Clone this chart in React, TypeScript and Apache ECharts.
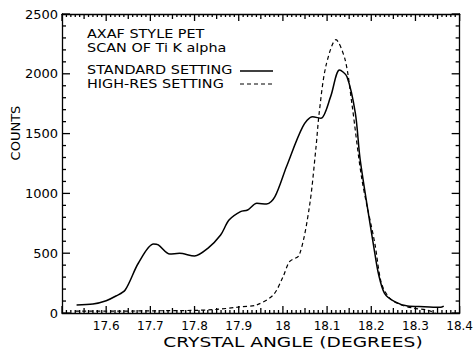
import React, { useEffect, useRef } from "react";
import * as echarts from "echarts";

const stdX = [17.533, 17.57, 17.6, 17.622, 17.643, 17.673, 17.707, 17.718, 17.744, 17.766, 17.8, 17.83, 17.859, 17.878, 17.904, 17.92, 17.941, 17.963, 17.982, 18.008, 18.045, 18.067, 18.086, 18.108, 18.128, 18.145, 18.164, 18.175, 18.208, 18.216, 18.23, 18.253, 18.282, 18.32, 18.357, 18.364];
const stdY = [67, 75, 103, 142, 192, 418, 577, 569, 493, 499, 477, 541, 652, 777, 847, 861, 917, 911, 973, 1223, 1558, 1641, 1628, 1809, 2032, 1976, 1670, 1279, 500, 332, 165, 95, 58, 53, 48, 58];
const hrX = [17.53, 17.6, 17.7, 17.8, 17.85, 17.9, 17.94, 17.978, 18.0, 18.015, 18.037, 18.06, 18.075, 18.082, 18.097, 18.12, 18.141, 18.156, 18.179, 18.208, 18.223, 18.242, 18.268, 18.297, 18.326, 18.345];
const hrY = [15, 15, 18, 22, 30, 50, 67, 150, 300, 429, 485, 889, 1390, 1670, 2060, 2285, 2115, 1753, 1112, 583, 248, 123, 67, 39, 25, 0];

const xMin = 17.5;
const xMax = 18.4;
const xMinorStep = 0.01;
const yMin = 0;
const yMax = 2500;
const yMinorStep = 100;
const titleLines = ["AXAF STYLE PET", "SCAN OF Ti K alpha"];
const legendNames = ["STANDARD SETTING", "HIGH-RES SETTING"];
const xName = "CRYSTAL ANGLE (DEGREES)";
const yName = "COUNTS";

const FONT = "DejaVu Sans";

// tick positions along the axes (axis decoration, derived from the axis range)
const xTickVals: number[] = [];
for (let i = 0; i <= Math.round((xMax - xMin) / xMinorStep); i++) xTickVals.push(+(xMin + i * xMinorStep).toFixed(2));
const yTickVals: number[] = [];
for (let i = 0; i <= Math.round((yMax - yMin) / yMinorStep); i++) yTickVals.push(yMin + i * yMinorStep);

export default function App() {
  const ref = useRef<HTMLDivElement>(null);
  useEffect(() => {
    if (!ref.current) return;
    const chart = echarts.init(ref.current, null, { renderer: "svg" });
    const line = { show: true, onZero: false, lineStyle: { color: "#000", width: 1.3 } };
    const tickStyle = { stroke: "#000", lineWidth: 1.3 };
    chart.setOption({
      animation: false,
      backgroundColor: "#fff",
      grid: { left: 62, right: 10, top: 14, bottom: 38, containLabel: false },
      xAxis: [
        {
          type: "value", position: "bottom", min: xMin, max: xMax, interval: 0.1,
          axisLine: line, splitLine: { show: false }, axisTick: { show: false },
          axisLabel: {
            show: true, color: "#000", fontFamily: FONT, fontSize: 12, margin: 7,
            formatter: (v: number) => (v < xMin + 0.05 ? "" : String(Math.round(v * 10) / 10)),
          },
        },
        {
          type: "value", position: "top", min: xMin, max: xMax, interval: 0.1,
          axisLine: line, splitLine: { show: false }, axisTick: { show: false },
          axisLabel: { show: false },
        },
      ],
      yAxis: [
        {
          type: "value", position: "left", min: yMin, max: yMax, interval: 500,
          axisLine: line, splitLine: { show: false }, axisTick: { show: false },
          axisLabel: { show: true, color: "#000", fontFamily: FONT, fontSize: 13, margin: 4, formatter: (v: number) => String(v) },
        },
        {
          type: "value", position: "right", min: yMin, max: yMax, interval: 500,
          axisLine: line, splitLine: { show: false }, axisTick: { show: false },
          axisLabel: { show: false },
        },
      ],
      series: [
        {
          type: "line",
          name: legendNames[0],
          data: stdX.map((x, i) => [x, stdY[i]]),
          showSymbol: false,
          smooth: 0.3,
          lineStyle: { color: "#000", width: 1.5 },
        },
        {
          type: "line",
          name: legendNames[1],
          data: hrX.map((x, i) => [x, hrY[i]]),
          showSymbol: false,
          smooth: 0.3,
          lineStyle: { color: "#000", width: 1.2, type: [4, 3] },
        },
        {
          type: "custom",
          silent: true,
          clip: false,
          z: 5,
          data: xTickVals.map((v) => [v, yMin]),
          renderItem: (params: any, api: any) => {
            const v = api.value(0);
            const i = params.dataIndex;
            const len = i % 10 === 0 ? 7 : i % 5 === 0 ? 5 : 3;
            const b = api.coord([v, yMin]);
            const t = api.coord([v, yMax]);
            return {
              type: "group",
              children: [
                { type: "line", shape: { x1: b[0], y1: b[1], x2: b[0], y2: b[1] - len }, style: tickStyle },
                { type: "line", shape: { x1: t[0], y1: t[1], x2: t[0], y2: t[1] + len }, style: tickStyle },
              ],
            };
          },
        },
        {
          type: "custom",
          silent: true,
          clip: false,
          z: 5,
          data: yTickVals.map((v) => [xMin, v]),
          renderItem: (params: any, api: any) => {
            const v = api.value(1);
            const i = params.dataIndex;
            const len = i % 5 === 0 ? 8 : 4;
            const l = api.coord([xMin, v]);
            const r = api.coord([xMax, v]);
            return {
              type: "group",
              children: [
                { type: "line", shape: { x1: l[0], y1: l[1], x2: l[0] + len, y2: l[1] }, style: tickStyle },
                { type: "line", shape: { x1: r[0], y1: r[1], x2: r[0] - len, y2: r[1] }, style: tickStyle },
              ],
            };
          },
        },
      ],
      graphic: [
        { type: "text", x: 87, y: 28, scaleX: 1.2, style: { text: titleLines[0], font: `12px "${FONT}"`, fill: "#000", verticalAlign: "top" } },
        { type: "text", x: 87, y: 42, scaleX: 1.2, style: { text: titleLines[1], font: `12px "${FONT}"`, fill: "#000", verticalAlign: "top" } },
        { type: "text", x: 87, y: 64, scaleX: 1.2, style: { text: legendNames[0], font: `12px "${FONT}"`, fill: "#000", verticalAlign: "top" } },
        { type: "text", x: 87, y: 78, scaleX: 1.2, style: { text: legendNames[1], font: `12px "${FONT}"`, fill: "#000", verticalAlign: "top" } },
        { type: "line", shape: { x1: 240, y1: 71, x2: 273, y2: 71 }, style: { stroke: "#000", lineWidth: 1.5 } },
        { type: "line", shape: { x1: 240, y1: 84, x2: 273, y2: 84 }, style: { stroke: "#000", lineWidth: 1.2, lineDash: [4, 3] } },
        { type: "text", x: 293, y: 342, scaleX: 1.33, style: { text: xName, font: `14px "${FONT}"`, fill: "#000", align: "center", verticalAlign: "middle" } },
        { type: "text", x: 15, y: 133, rotation: Math.PI / 2, style: { text: yName, font: `13px "${FONT}"`, fill: "#000", align: "center", verticalAlign: "middle" } },
      ],
    });
    return () => chart.dispose();
  }, []);
  return <div ref={ref} style={{ position: "fixed", left: 0, top: 0, width: 476, height: 351 }} />;
}
